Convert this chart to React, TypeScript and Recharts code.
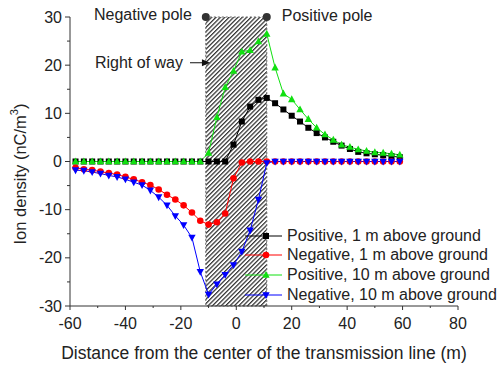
import React from 'react'
import {
  LineChart, Line, XAxis, YAxis, Legend,
  ReferenceArea, ReferenceDot, ReferenceLine, Label
} from 'recharts'

const FONT = '"Liberation Sans", Arial, sans-serif'
const INK = '#222'
const AXIS = '#333'

// distance from the line center (m)
const distance = [
  -58, -55, -52, -49, -46, -43, -40, -37, -34, -31, -28, -25, -22, -19, -16, -13,
  -10, -7, -4, -1, 2, 5, 8, 11,
  14, 17, 20, 23, 26, 29, 32, 35, 38, 41, 44, 47, 50, 53, 56, 59,
]

// ion density (nC/m3)
const positive1m = [
  0, 0, 0, 0, 0, 0, 0, 0, 0, 0, 0, 0, 0, 0, 0, 0,
  0, 0, 0, 3.5, 8.3, 11.4, 12.8, 13.2,
  12.1, 10.8, 9.5, 8.3, 7.0, 5.9, 5.0, 4.1, 3.3, 2.6, 2.0, 1.7, 1.5, 1.3, 1.1, 0.9,
]
const negative1m = [
  -1.3, -1.6, -1.8, -2.1, -2.4, -2.7, -3.2, -3.7, -4.3, -4.9, -5.8, -6.9, -7.9, -9.1, -10.6, -12.3,
  -13.1, -12.6, -10.8, -3.5, -0.2, 0, 0, 0,
  0, 0, 0, 0, 0, 0, 0, 0, 0, 0, 0, 0, 0, 0, 0, 0,
]
const positive10m = [
  0, 0, 0, 0, 0, 0, 0, 0, 0, 0, 0, 0, 0, 0, 0, 0,
  1.8, 9.2, 15.4, 18.8, 22.8, 23.1, 24.9, 26.5,
  19.5, 14.1, 12.9, 10.8, 8.8, 7.0, 5.6, 4.5, 3.5, 3.0, 2.5, 2.2, 1.9, 1.8, 1.6, 1.4,
]
const negative10m = [
  -1.8, -1.9, -2.2, -2.5, -2.9, -3.2, -3.7, -4.3, -4.9, -6.0, -7.4, -9.1, -11.3, -13.2, -15.8, -22.9,
  -27.6, -25.5, -23.5, -21.5, -18.7, -14.3, -7.9, -0.3,
  0, 0, 0, 0, 0, 0, 0, 0, 0, 0, 0, 0, 0, 0, 0, 0,
]

const xTicks = [-60, -50, -40, -30, -20, -10, 0, 10, 20, 30, 40, 50, 60, 70, 80]
const yTicks = [-30, -25, -20, -15, -10, -5, 0, 5, 10, 15, 20, 25, 30]

// right of way and pole positions
const rowBounds = [-11, 11]
const poleY = 30
const arrowX = [-16.7, -9.5]
const arrowY = 20.5

type Shape = 'square' | 'circle' | 'up' | 'down'

const SERIES: { key: string; name: string; color: string; shape: Shape }[] = [
  { key: 'pos1', name: 'Positive, 1 m above ground', color: '#000000', shape: 'square' },
  { key: 'neg1', name: 'Negative, 1 m above ground', color: '#ff0000', shape: 'circle' },
  { key: 'pos10', name: 'Positive, 10 m above ground', color: '#10e010', shape: 'up' },
  { key: 'neg10', name: 'Negative, 10 m above ground', color: '#0000ff', shape: 'down' },
]

const data = distance.map((x, i) => ({
  x,
  pos1: positive1m[i],
  neg1: negative1m[i],
  pos10: positive10m[i],
  neg10: negative10m[i],
}))

function Marker({ shape, cx, cy, color }: { shape: Shape; cx: number; cy: number; color: string }) {
  if (shape === 'square') return <rect x={cx - 3} y={cy - 3} width={6} height={6} fill={color} />
  if (shape === 'circle') return <circle cx={cx} cy={cy} r={3.3} fill={color} />
  if (shape === 'up') return <polygon points={`${cx},${cy - 4} ${cx - 3.7},${cy + 2.8} ${cx + 3.7},${cy + 2.8}`} fill={color} />
  return <polygon points={`${cx},${cy + 4} ${cx - 3.7},${cy - 2.8} ${cx + 3.7},${cy - 2.8}`} fill={color} />
}

const dotFor = (shape: Shape, color: string) => (p: any) => (
  <Marker key={`d-${p.index}`} shape={shape} cx={p.cx} cy={p.cy} color={color} />
)

function XTick({ x, y, payload }: any) {
  const major = payload.value % 20 === 0
  return (
    <g>
      <line x1={x} x2={x} y1={y} y2={y + (major ? 4 : 2)} stroke={AXIS} />
      {major && (
        <text x={x} y={y + 17} textAnchor="middle" dominantBaseline="central"
          fontSize={16} fontFamily={FONT} fill={INK}>{payload.value}</text>
      )}
    </g>
  )
}

function YTick({ x, y, payload }: any) {
  const major = payload.value % 10 === 0
  return (
    <g>
      <line x1={x} x2={x - (major ? 5 : 3)} y1={y} y2={y} stroke={AXIS} />
      {major && (
        <text x={x - 8} y={y} textAnchor="end" dominantBaseline="central"
          fontSize={16} fontFamily={FONT} fill={INK}>{payload.value}</text>
      )}
    </g>
  )
}

function ArrowShape({ x1, y1, x2, y2 }: any) {
  return (
    <g>
      <line x1={x1} y1={y1} x2={x2 - 6} y2={y2} stroke="#111" strokeWidth={1} />
      <polygon points={`${x2},${y2} ${x2 - 8},${y2 - 3.5} ${x2 - 8},${y2 + 3.5}`} fill="#111" />
      <text x={x1 - 7} y={y1} textAnchor="end" dominantBaseline="central"
        fontSize={16} fontFamily={FONT} fill={INK}>Right of way</text>
    </g>
  )
}

function LegendBox() {
  return (
    <div style={{ fontFamily: FONT }}>
      {SERIES.map(s => (
        <div key={s.key} style={{ display: 'flex', alignItems: 'center', height: 19.6 }}>
          <svg width={42} height={20} style={{ display: 'block', flexShrink: 0 }}>
            <line x1={0} x2={37} y1={10} y2={10} stroke={s.color} strokeWidth={1} />
            <Marker shape={s.shape} cx={21} cy={10} color={s.color} />
          </svg>
          <span style={{ fontSize: 16, color: INK, whiteSpace: 'nowrap' }}>{s.name}</span>
        </div>
      ))}
    </div>
  )
}

export default function App() {
  return (
    <div style={{ width: 500, height: 370, background: '#fff' }}>
      <style>{'body{margin:0}'}</style>
      <LineChart width={500} height={370} data={data}
        margin={{ top: 17, right: 42, bottom: 14, left: 0 }}>
        <defs>
          <pattern id="hatch" patternUnits="userSpaceOnUse" width={3.1} height={3.1}
            patternTransform="rotate(45)">
            <line x1={0.6} y1={0} x2={0.6} y2={3.1} stroke="#333" strokeWidth={1.3} />
          </pattern>
        </defs>

        <XAxis
          type="number" dataKey="x" domain={[-60, 80]} ticks={xTicks}
          interval={0} height={50} tickSize={0} tickMargin={0}
          axisLine={{ stroke: AXIS }} tickLine={false} tick={<XTick />}
        >
          <Label value="Distance from the center of the transmission line (m)"
            position="insideBottom" offset={-3}
            style={{ fontSize: 17.5, fontFamily: FONT, fill: INK }} />
        </XAxis>
        <YAxis
          type="number" domain={[-30, 30]} ticks={yTicks} interval={0}
          width={70} tickSize={0} tickMargin={0}
          axisLine={{ stroke: AXIS }} tickLine={false} tick={<YTick />}
        >
          <Label content={() => (
            <text x={20} y={174} transform="rotate(-90 20 174)" textAnchor="middle"
              dominantBaseline="central" fontSize={16.5} fontFamily={FONT} fill={INK}>
              Ion density (nC/m<tspan fontSize={11} dy={-6}>3</tspan><tspan dy={6}>)</tspan>
            </text>
          )} />
        </YAxis>

        <ReferenceArea x1={rowBounds[0]} x2={rowBounds[1]} y1={-30} y2={30}
          fill="url(#hatch)" fillOpacity={1} stroke="#666" strokeDasharray="2 2" strokeWidth={1} />

        {SERIES.map(s => (
          <Line key={s.key} type="linear" dataKey={s.key} name={s.name}
            stroke={s.color} strokeWidth={1}
            dot={dotFor(s.shape, s.color)} activeDot={false}
            isAnimationActive={false} />
        ))}

        <ReferenceLine segment={[{ x: arrowX[0], y: arrowY }, { x: arrowX[1], y: arrowY }]}
          shape={<ArrowShape />} />

        <ReferenceDot x={rowBounds[0]} y={poleY} r={4} fill="#333" stroke="none">
          <Label value="Negative pole" position="left" offset={10} dy={-3}
            style={{ fontSize: 16, fontFamily: FONT, fill: INK }} />
        </ReferenceDot>
        <ReferenceDot x={rowBounds[1]} y={poleY} r={4} fill="#333" stroke="none">
          <Label value="Positive pole" position="right" offset={11} dy={-2}
            style={{ fontSize: 16, fontFamily: FONT, fill: INK }} />
        </ReferenceDot>

        <Legend layout="vertical" align="center" verticalAlign="middle"
          wrapperStyle={{ left: 245, top: 226, width: 255 }}
          content={() => <LegendBox />} />
      </LineChart>
    </div>
  )
}
